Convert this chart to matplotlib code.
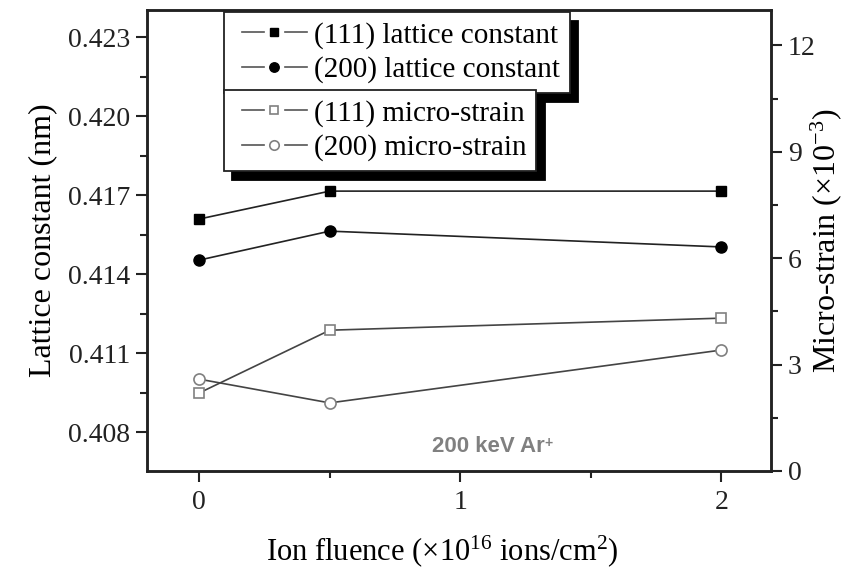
import matplotlib
matplotlib.use('Agg')
import matplotlib.pyplot as plt
from matplotlib.lines import Line2D
from matplotlib.legend_handler import HandlerBase
from matplotlib.ticker import MultipleLocator

plt.rcParams['font.family'] = ['Liberation Serif', 'DejaVu Serif']
plt.rcParams['mathtext.fontset'] = 'custom'
plt.rcParams['mathtext.rm'] = 'Liberation Serif'
plt.rcParams['mathtext.it'] = 'Liberation Serif:italic'

# data
fluence = [0, 0.5, 2]
lat_111 = [0.41609, 0.41715, 0.41715]
lat_200 = [0.41453, 0.41563, 0.41503]
strain_111 = [2.20, 3.97, 4.31]
strain_200 = [2.59, 1.92, 3.41]


class GapHandler(HandlerBase):
    # legend key drawn as  --- marker ---  with small gaps round the marker
    def create_artists(self, legend, orig_handle, xdescent, ydescent,
                       width, height, fontsize, trans):
        y = height / 2 - ydescent
        x0 = -xdescent
        x1 = x0 + width
        xm = (x0 + x1) / 2
        gap = 0.36 * fontsize
        kw = dict(color='#555555', lw=1.2)
        a = Line2D([x0, xm - gap], [y, y], **kw)
        b = Line2D([xm + gap, x1], [y, y], **kw)
        m = Line2D([xm], [y], ls='', marker=orig_handle.get_marker(),
                   ms=orig_handle.get_markersize() * 0.85,
                   mfc=orig_handle.get_markerfacecolor(),
                   mec=orig_handle.get_markeredgecolor(),
                   mew=orig_handle.get_markeredgewidth())
        for art in (a, b, m):
            art.set_transform(trans)
        return [a, b, m]


fig = plt.figure(figsize=(8.48, 5.70), dpi=100)
ax = fig.add_axes([0.1733, 0.1737, 0.7359, 0.8088])
ax2 = ax.twinx()

l1, = ax.plot(fluence, lat_111, '-', color='#222222', lw=1.2, marker='s', ms=7,
              mfc='black', mec='black', label='(111) lattice constant')
l2, = ax.plot(fluence, lat_200, '-', color='#222222', lw=1.2, marker='o', ms=8,
              mfc='black', mec='black', label='(200) lattice constant')
l3, = ax2.plot(fluence, strain_111, '-', color='#444444', lw=1.2, marker='s', ms=7,
               mfc='white', mec='#808080', mew=1.2, label='(111) micro-strain')
l4, = ax2.plot(fluence, strain_200, '-', color='#444444', lw=1.2, marker='o', ms=8,
               mfc='white', mec='#808080', mew=1.2, label='(200) micro-strain')

ax.set_xlim(-0.2, 2.19)
ax.set_ylim(0.40652, 0.42403)
ax2.set_ylim(0, 13)

ax.set_xticks([0, 1, 2])
ax.xaxis.set_minor_locator(MultipleLocator(0.5))
ax.set_yticks([0.408, 0.411, 0.414, 0.417, 0.420, 0.423])
ax.yaxis.set_minor_locator(MultipleLocator(0.0015))
ax2.set_yticks([0, 3, 6, 9, 12])
ax2.yaxis.set_minor_locator(MultipleLocator(1.5))

for a in (ax, ax2):
    for s in a.spines.values():
        s.set_linewidth(1.8)
        s.set_color('#222222')
    a.tick_params(which='major', direction='out', length=8, width=1.5,
                  labelsize=20, colors='#222222', pad=4)
    a.tick_params(which='minor', direction='out', length=5, width=1.5,
                  colors='#222222')
ax.tick_params(axis='y', which='both', right=False)
ax.tick_params(axis='x', which='both', top=False, pad=6)

ax.set_xlabel(r'Ion fluence ($\times$10$^{16}$ ions/cm$^{2}$)', fontsize=22)
ax.xaxis.set_label_coords(0.473, -0.135)
ax.set_ylabel('Lattice constant (nm)', fontsize=23, labelpad=8)
ax2.set_ylabel(r'Micro-strain ($\times$10$^{-3}$)', fontsize=23, labelpad=-5)

t = ax.text(0.547, 0.041, '200 keV Ar', transform=ax.transAxes, fontsize=16,
            fontweight='bold', color='#808080', ha='center', va='baseline',
            family=['Liberation Sans'])
ax.annotate('+', xy=(1.0, 1.0), xycoords=t, fontsize=10, fontweight='bold',
            color='#808080', ha='left', va='top', family=['Liberation Sans'])

shadow = {'ox': 6, 'oy': -6.5, 'color': 'black', 'alpha': 1}
leg_kw = dict(loc='upper left', fontsize=21, frameon=True, fancybox=False,
              framealpha=1, edgecolor='#222222', borderpad=0.34,
              labelspacing=0.26, handlelength=2.5, handletextpad=0.24,
              borderaxespad=0, numpoints=1, bbox_transform=fig.transFigure,
              handler_map={Line2D: GapHandler(xpad=0.27)})
leg1 = ax2.legend(handles=[l1, l2], bbox_to_anchor=(224 / 848, 1 - 12 / 570),
                  shadow=shadow, **leg_kw)
ax2.add_artist(leg1)
leg2 = ax2.legend(handles=[l3, l4], bbox_to_anchor=(224 / 848, 1 - 90 / 570),
                  shadow=shadow, **leg_kw)
for leg in (leg1, leg2):
    leg.get_frame().set_linewidth(1.3)

fig.savefig('out.png', dpi=100)
